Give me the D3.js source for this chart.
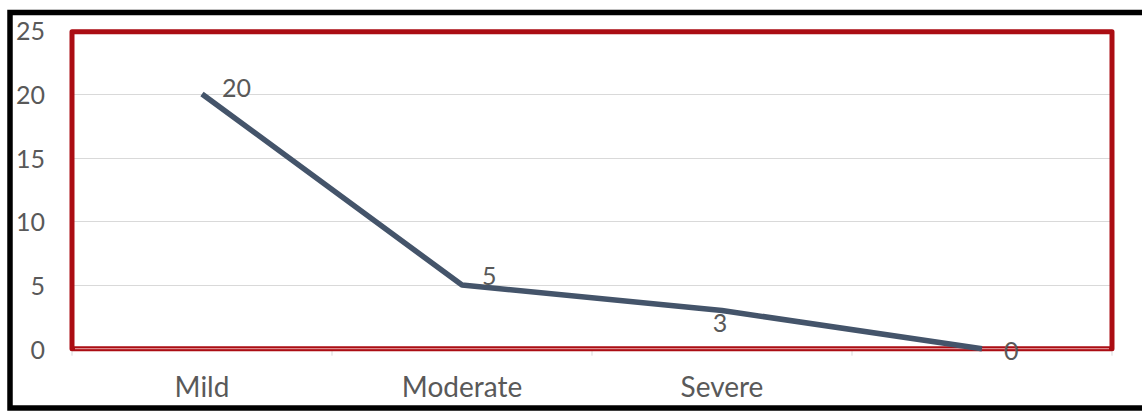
<!DOCTYPE html>
<html>
<head>
<meta charset="utf-8">
<script src="https://cdn.jsdelivr.net/npm/d3@7"></script>
<style>
  html, body { margin: 0; padding: 0; background: #fff; }
  svg { display: block; font-family: Lato, "Open Sans", sans-serif; }
</style>
</head>
<body>
<svg id="chart" width="1142" height="412"></svg>
<script>
// Severity counts
const categories = ["Mild", "Moderate", "Severe", ""];
const values = [20, 5, 3, 0];
const yTicks = [0, 5, 10, 15, 20, 25];

const W = 1142, H = 412;
const plot = { left: 72, right: 1112, top: 30.3, bottom: 348.7 };

const svg = d3.select("#chart");

const x = d3.scaleBand().domain(categories.map((c, i) => i)).range([plot.left, plot.right]);
const y = d3.scaleLinear().domain([0, 25]).range([plot.bottom, plot.top]);

// outer frame
svg.append("rect")
  .attr("x", 10).attr("y", 12.5)
  .attr("width", 1145).attr("height", 395.5)
  .attr("fill", "#fff").attr("stroke", "#000").attr("stroke-width", 5.5);

// horizontal gridlines
svg.append("g")
  .selectAll("line")
  .data(yTicks.filter(t => t > 0 && t < 25))
  .join("line")
  .attr("x1", plot.left).attr("x2", plot.right)
  .attr("y1", d => Math.round(y(d)) + 0.5).attr("y2", d => Math.round(y(d)) + 0.5)
  .attr("stroke", "#d9d9d9").attr("stroke-width", 1);

// y tick labels
svg.append("g")
  .selectAll("text")
  .data(yTicks)
  .join("text")
  .attr("x", 45).attr("y", d => y(d))
  .attr("text-anchor", "end").attr("dominant-baseline", "central")
  .attr("fill", "#595959").attr("font-size", 25)
  .text(d => d);

// category tick marks below the axis
const bounds = categories.map((c, i) => x(i)).concat([plot.right]);
svg.append("g")
  .selectAll("line")
  .data(bounds)
  .join("line")
  .attr("x1", d => d).attr("x2", d => d)
  .attr("y1", plot.bottom).attr("y2", plot.bottom + 7)
  .attr("stroke", "#d9d9d9").attr("stroke-width", 1);

// plot area border
svg.append("rect")
  .attr("x", plot.left).attr("y", plot.top + 1.5)
  .attr("width", plot.right - plot.left)
  .attr("height", plot.bottom - plot.top - 1.5)
  .attr("fill", "none").attr("stroke", "#ab0d13").attr("stroke-width", 5)
  .attr("stroke-linejoin", "round");

// zero axis line
svg.append("line")
  .attr("x1", plot.left + 3).attr("x2", plot.right - 3)
  .attr("y1", y(0)).attr("y2", y(0))
  .attr("stroke", "#e9a8aa").attr("stroke-width", 1);

// category labels
svg.append("g")
  .selectAll("text")
  .data(categories)
  .join("text")
  .attr("x", (d, i) => x(i) + x.bandwidth() / 2)
  .attr("y", 397)
  .attr("text-anchor", "middle")
  .attr("fill", "#595959").attr("font-size", 28)
  .text(d => d);

// series line
const line = d3.line()
  .x((d, i) => x(i) + x.bandwidth() / 2)
  .y(d => y(d));

svg.append("path")
  .datum(values)
  .attr("d", line)
  .attr("fill", "none")
  .attr("stroke", "#44546a").attr("stroke-width", 5.5)
  .attr("stroke-linejoin", "round");

// value labels
const labelOffset = [[20, -7], [20, -10], [-2, 12], [22, 1]];
svg.append("g")
  .selectAll("text")
  .data(values)
  .join("text")
  .attr("x", (d, i) => x(i) + x.bandwidth() / 2 + labelOffset[i][0])
  .attr("y", (d, i) => y(d) + labelOffset[i][1])
  .attr("text-anchor", (d, i) => labelOffset[i][0] > 5 ? "start" : "middle")
  .attr("dominant-baseline", "central")
  .attr("fill", "#595959").attr("font-size", 25)
  .text(d => d);
</script>
</body>
</html>
